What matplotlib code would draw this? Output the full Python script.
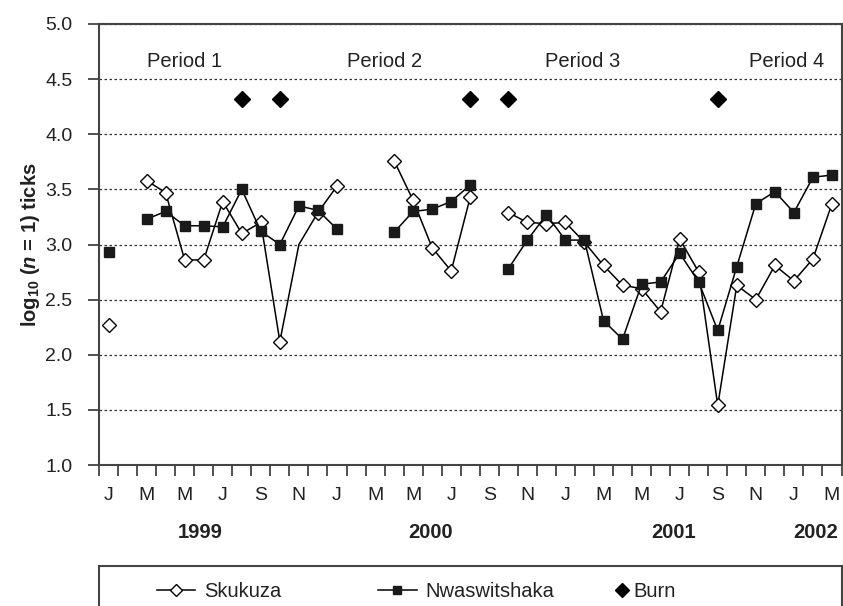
import numpy as np
import matplotlib

matplotlib.use("Agg")
import matplotlib.pyplot as plt
from matplotlib.lines import Line2D
from matplotlib.patches import Rectangle

plt.rcParams["font.family"] = ["Liberation Sans", "DejaVu Sans"]
plt.rcParams["mathtext.fontset"] = "custom"
plt.rcParams["mathtext.rm"] = "Liberation Sans:bold"
plt.rcParams["mathtext.it"] = "Liberation Sans:italic:bold"
plt.rcParams["mathtext.bf"] = "Liberation Sans:bold"

nan = np.nan

# monthly categories, Jan 1999 .. Mar 2002
month_letters = ["J", "F", "M", "A", "M", "J", "J", "A", "S", "O", "N", "D"]
months = [month_letters[i % 12] for i in range(39)]

skukuza = [2.27, nan, 3.58, 3.47, 2.86, 2.86, 3.39, 3.10, 3.20, 2.12, 3.00, 3.29,
           3.53, nan, nan, 3.76, 3.40, 2.97, 2.76, 3.43, nan, 3.29, 3.20, 3.19,
           3.20, 3.02, 2.81, 2.63, 2.60, 2.39, 3.05, 2.75, 1.54, 2.63, 2.50, 2.81,
           2.67, 2.87, 3.37]
nwaswitshaka = [2.93, nan, 3.23, 3.30, 3.17, 3.17, 3.16, 3.50, 3.12, 3.00, 3.35, 3.31,
                3.14, nan, nan, 3.11, 3.30, 3.32, 3.39, 3.54, nan, 2.78, 3.04, 3.27,
                3.04, 3.04, 2.31, 2.14, 2.64, 2.66, 2.92, 2.66, 2.22, 2.80, 3.37, 3.48,
                3.29, 3.61, 3.63]
burn_months = [7, 9, 19, 21, 32]
burn_level = 4.32

periods = ["Period 1", "Period 2", "Period 3", "Period 4"]
period_x = [4.0, 14.5, 24.9, 35.6]
years = ["1999", "2000", "2001", "2002"]
year_x = [4.8, 16.94, 29.67, 37.13]

W, H = 843, 606
fig = plt.figure(figsize=(W / 100, H / 100), dpi=100)
ax = fig.add_axes([99 / W, 1 - 465 / H, (841.5 - 99) / W, (465 - 24) / H])

x = np.arange(len(months))
sk_marks = [i for i in range(len(x)) if i != 10]
h_sk, = ax.plot(x, skukuza, color="black", lw=1.1, marker="D", ms=7.2,
                mfc="white", mec="black", mew=1.0, markevery=sk_marks,
                label="Skukuza", zorder=3)
h_nw, = ax.plot(x, nwaswitshaka, color="black", lw=1.1, marker="s", ms=6.8,
                mfc="#1a1a1a", mec="#1a1a1a", label="Nwaswitshaka", zorder=4)
h_bu, = ax.plot(burn_months, [burn_level] * len(burn_months), ls="none",
                marker="D", ms=8.5, color="black", label="Burn", zorder=4)

for name, px in zip(periods, period_x):
    ax.text(px, 4.66, name, ha="center", va="center", fontsize=14.5, color="#222222")

ax.set_xlim(-0.5, len(months) - 0.5)
ax.set_ylim(1.0, 5.0)
ax.set_yticks(np.arange(1.0, 5.01, 0.5))
ax.set_yticklabels([f"{v:.1f}" for v in np.arange(1.0, 5.01, 0.5)])
ax.yaxis.grid(True, color="#333333", lw=0.9, ls=(0, (2, 2)))
ax.set_axisbelow(True)

ax.set_xticks(np.arange(-0.5, len(months), 1))
ax.set_xticklabels([])
ax.set_xticks(x[::2], minor=True)
ax.set_xticklabels(months[::2], minor=True)
ax.tick_params(axis="x", which="major", direction="out", length=8, width=1.2,
               color="#333333")
ax.tick_params(axis="x", which="minor", length=0, pad=16, labelsize=14,
               labelcolor="#222222")
ax.tick_params(axis="y", direction="out", length=8, width=1.2, pad=11,
               labelsize=14, color="#333333", labelcolor="#222222")
for s in ax.spines.values():
    s.set_color("#444444")
    s.set_linewidth(1.5)

for yr, yx in zip(years, year_x):
    ax.text(yx, -0.152, yr, transform=ax.get_xaxis_transform(), ha="center",
            va="center", fontsize=14.5, fontweight="bold", color="#222222")

fig.text(30 / W, 1 - 244.5 / H, r"log$_{\mathrm{10}}$ ($\mathit{n}$ = 1) ticks",
         rotation=90, ha="center", va="center", fontsize=14.5, fontweight="bold",
         color="#222222")

# legend box, cut by the bottom of the figure
fig.add_artist(Rectangle((99 / W, -0.1), (842 - 99) / W, 0.1 + 1 - 566 / H,
                         transform=fig.transFigure, fill=False, ec="#444444",
                         lw=1.5))
leg_y = 1 - 591.7 / H
for h, x0, hl in [(h_sk, 156.7, 1.9), (h_nw, 378.3, 1.9), (h_bu, 615, 0.7)]:
    lg = fig.legend(handles=[h], loc="center left", bbox_to_anchor=(x0 / W, leg_y),
                    frameon=False, fontsize=14.5, handlelength=hl,
                    handletextpad=0.45 if hl > 1 else 0.2, borderpad=0,
                    borderaxespad=0, markerscale=0.8)
    for t in lg.get_texts():
        t.set_color("#222222")

fig.savefig("out.png", dpi=100)
